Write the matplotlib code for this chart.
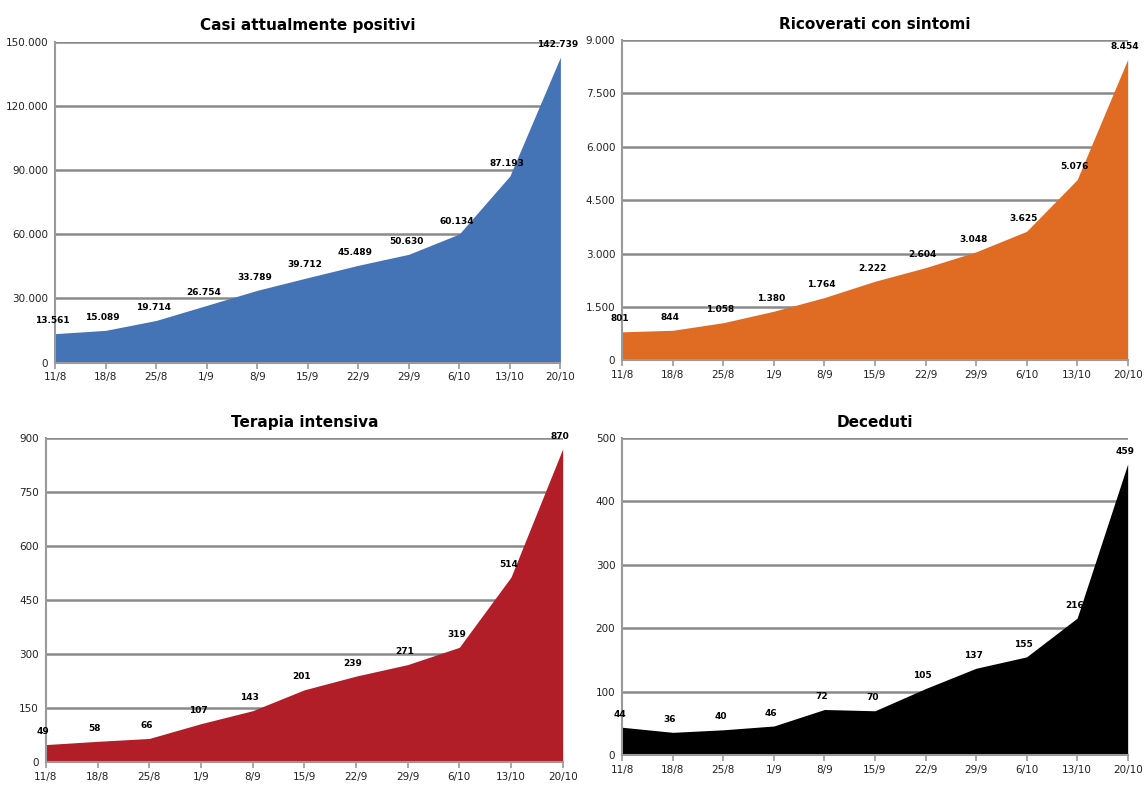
import matplotlib
matplotlib.use("Agg")
import matplotlib.pyplot as plt
import matplotlib.ticker as mticker

dates = ["11/8", "18/8", "25/8", "1/9", "8/9", "15/9", "22/9", "29/9", "6/10", "13/10", "20/10"]

positivi = [13561, 15089, 19714, 26754, 33789, 39712, 45489, 50630, 60134, 87193, 142739]
ricoverati = [801, 844, 1058, 1380, 1764, 2222, 2604, 3048, 3625, 5076, 8454]
terapia = [49, 58, 66, 107, 143, 201, 239, 271, 319, 514, 870]
deceduti = [44, 36, 40, 46, 72, 70, 105, 137, 155, 216, 459]

narrow = ["Liberation Sans Narrow", "DejaVu Sans Condensed", "DejaVu Sans"]


def it_fmt(v, pos=None):
    # italian thousands separator
    return f"{int(round(v)):,}".replace(",", ".")


def area_panel(fig, rect, values, color, title, ymax, step):
    ax = fig.add_axes(rect)
    x = list(range(len(values)))
    ax.fill_between(x, values, 0, color=color, linewidth=0, zorder=2)
    ax.set_xlim(0, len(values) - 1)
    ax.set_ylim(0, ymax)
    ax.set_yticks(range(0, ymax + 1, step))
    ax.yaxis.set_major_formatter(mticker.FuncFormatter(it_fmt))
    ax.set_xticks(x)
    ax.set_xticklabels(dates)
    ax.grid(axis="y", color="#8a8a8a", linewidth=1.8, zorder=1)
    for s in ["top", "right"]:
        ax.spines[s].set_visible(False)
    ax.spines["left"].set_color("#9a9a9a")
    ax.spines["left"].set_linewidth(1.5)
    ax.spines["bottom"].set_color("#9a9a9a")
    ax.spines["bottom"].set_linewidth(1.5)
    ax.tick_params(axis="y", length=0, pad=5, labelsize=7.5, colors="#222222")
    ax.tick_params(axis="x", length=4, width=1.2, color="#9a9a9a", pad=3,
                   labelsize=7.5, labelcolor="#222222")
    for lab in ax.get_xticklabels() + ax.get_yticklabels():
        lab.set_family(narrow)
    for i, v in enumerate(values):
        ax.annotate(it_fmt(v), (i, v), xytext=(-2, 6), textcoords="offset points",
                    ha="center", va="bottom", fontsize=6.5, fontweight="bold",
                    family=narrow, zorder=3)
    ax.set_title(title, fontsize=11, fontweight="bold", pad=8)
    return ax


fig = plt.figure(figsize=(11.46, 7.85), dpi=100)

area_panel(fig, [0.048, 0.538, 0.441, 0.409], positivi, "#4474b5",
           "Casi attualmente positivi", 150000, 30000)
area_panel(fig, [0.543, 0.541, 0.441, 0.408], ricoverati, "#e06c23",
           "Ricoverati con sintomi", 9000, 1500)
area_panel(fig, [0.040, 0.029, 0.451, 0.413], terapia, "#b21e27",
           "Terapia intensiva", 900, 150)
area_panel(fig, [0.543, 0.038, 0.441, 0.404], deceduti, "#000000",
           "Deceduti", 500, 100)

fig.savefig("out.png", dpi=100)
